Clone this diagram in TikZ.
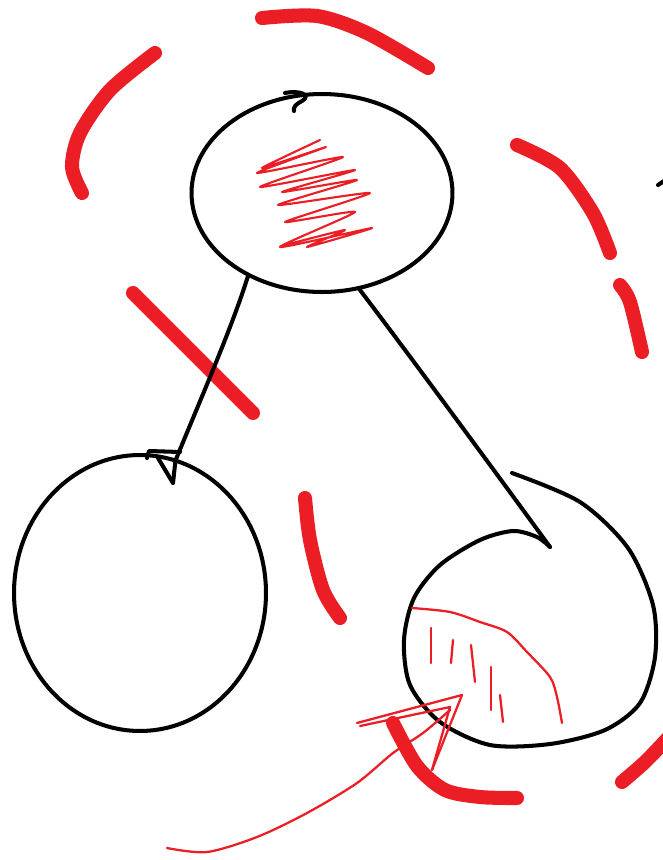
\documentclass[tikz,border=0pt]{standalone}
\usetikzlibrary{shapes.geometric}
\definecolor{penred}{RGB}{235,30,38}

\begin{document}
\begin{tikzpicture}[
        x=0.02cm, y=-0.02cm,
        sketch/.style={draw=black, line width=2.3pt, line cap=round, line join=round},
        blob/.style={ellipse, sketch, inner sep=0pt, outer sep=0pt},
        marker/.style={draw=penred, line width=8pt, line cap=round, line join=round},
        pen/.style={draw=penred, line width=1.3pt, line cap=round, line join=round}
    ]
        \useasboundingbox (0,0) rectangle (663,860);

        % Big red dashed loop around the tree
        \draw[marker] plot[smooth] coordinates {(155,53) (110,90) (80,133) (72,167) (82,193)};
        \draw[marker] plot[smooth] coordinates {(262,18) (317,16) (367,33) (428,68)};
        \draw[marker] plot[smooth] coordinates {(517,145) (560,168) (593,213) (610,253)};
        \draw[marker] plot[smooth] coordinates {(620,285) (630,302) (642,352)};
        \draw[marker] (133,293) -- (253,413);
        \draw[marker] plot[smooth] coordinates {(305,498) (310,540) (323,590) (340,618)};
        \draw[marker] plot[smooth] coordinates {(393,723) (417,766) (445,790) (480,797) (517,798)};
        \draw[marker] plot[smooth] coordinates {(622,782) (645,762) (668,738)};

        % The three nodes
        \node[blob, minimum width=5.22cm, minimum height=3.96cm] (top) at (322,193) {};
        \node[blob, minimum width=5.04cm, minimum height=5.52cm] (left) at (140,593) {};
        \draw[sketch] plot[smooth] coordinates {(512,473) (580,502) (628,548) (653,605) (655,657)
            (640,703) (605,730) (550,744) (490,745) (440,722) (410,685) (404,640) (414,598)
            (440,565) (480,540) (513,531) (537,537) (550,547)};
        \coordinate (rightin) at (550,547);
        \coordinate (lefttip) at (173,483);

        % Little pen hooks where the strokes were started
        \draw[sketch] (285,93) .. controls (300,90) and (312,95) .. (302,101) .. controls (296,104) and (293,107) .. (294,111);
        \draw[sketch] (147,458) -- (149,451) -- (180,452);
        \draw[sketch] (158,458) -- (lefttip);
        \draw[sketch] (658,185) -- (664,181);

        % Edges
        \draw[sketch] (top.228) .. controls (232,328) and (198,405) .. (left.75) -- (lefttip);
        \draw[sketch] (top.291) .. controls (402,345) and (505,485) .. (rightin);

        % Scribbled-out root
        \draw[pen, line width=1.2pt] plot[smooth, tension=0.35] coordinates {(320,140) (262,168) (326,147) (257,173) (343,157)
            (260,187) (355,170) (282,192) (357,180) (278,205) (370,193)
            (285,222) (355,212) (280,247) (372,228) (307,247) (345,230) (285,245)};

        % Hatched corner of the right node
        \draw[pen] plot[smooth] coordinates {(412,608) (450,612) (480,622) (507,632) (527,652) (550,677) (557,697) (562,723)};
        \draw[pen] (431,628) -- (431,663);
        \draw[pen] (453,640) -- (451,663);
        \draw[pen] (471,645) -- (475,682);
        \draw[pen] (491,667) -- (491,710);
        \draw[pen] (500,695) -- (503,722);

        % Arrow pointing at it
        \coordinate (arrowtip) at (462,695);
        \draw[pen] plot[smooth] coordinates {(167,848) (207,852) (257,837) (307,813) (357,783) (393,753) (423,733) (450,710)};
        \draw[pen] (357,723) -- (arrowtip) -- (432,770);
        \draw[pen] (360,726) -- (450,707) -- (432,770);
    \end{tikzpicture}
\end{document}
